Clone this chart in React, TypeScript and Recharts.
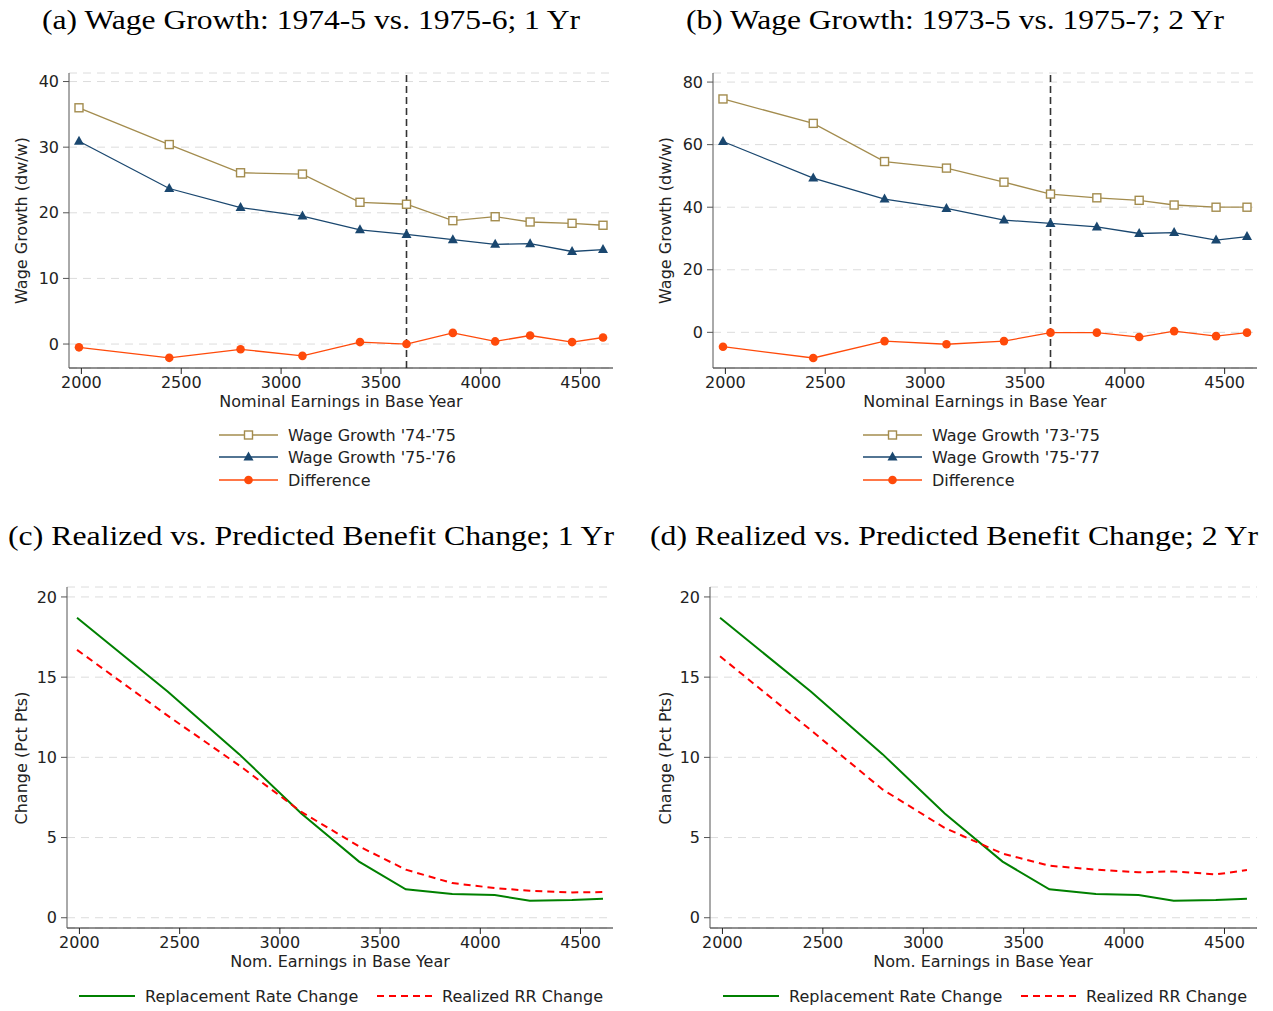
import React from "react";
import {
  LineChart,
  Line,
  XAxis,
  YAxis,
  CartesianGrid,
  ReferenceLine,
} from "recharts";

// ---------- data ----------
const earnings = [1988, 2440, 2797, 3107, 3395, 3628, 3860, 4072, 4247, 4457, 4612];
const xTicks = [2000, 2500, 3000, 3500, 4000, 4500];
const kinkEarnings = 3628;

// panel (a)
const wage7475 = [36.0, 30.4, 26.1, 25.9, 21.6, 21.3, 18.8, 19.4, 18.6, 18.4, 18.1];
const wage7576 = [30.9, 23.7, 20.8, 19.5, 17.4, 16.7, 15.9, 15.2, 15.3, 14.1, 14.4];
const diff1 = [-0.5, -2.1, -0.8, -1.8, 0.3, 0.0, 1.7, 0.4, 1.3, 0.3, 1.0];
const yTicksA = [0, 10, 20, 30, 40];

// panel (b)
const wage7375 = [74.6, 66.8, 54.6, 52.5, 48.0, 44.2, 43.0, 42.2, 40.7, 40.0, 40.0];
const wage7577 = [61.0, 49.3, 42.6, 39.6, 35.9, 34.8, 33.7, 31.6, 31.9, 29.5, 30.6];
const diff2 = [-4.6, -8.2, -2.8, -3.8, -2.8, -0.1, -0.1, -1.5, 0.4, -1.2, -0.1];
const yTicksB = [0, 20, 40, 60, 80];

// panels (c) and (d)
const rrChange = [18.7, 14.1, 10.2, 6.5, 3.5, 1.77, 1.48, 1.42, 1.06, 1.1, 1.18];
const realized1 = [16.7, 12.6, 9.5, 6.6, 4.45, 3.0, 2.16, 1.85, 1.68, 1.58, 1.6];
const realized2 = [16.3, 11.7, 8.0, 5.6, 4.0, 3.24, 3.0, 2.83, 2.89, 2.7, 2.97];
const yTicksC = [0, 5, 10, 15, 20];

const titles = [
  "(a) Wage Growth: 1974-5 vs. 1975-6; 1 Yr",
  "(b) Wage Growth: 1973-5 vs. 1975-7; 2 Yr",
  "(c) Realized vs. Predicted Benefit Change; 1 Yr",
  "(d) Realized vs. Predicted Benefit Change; 2 Yr",
];

// ---------- styles ----------
const TAN = "#A38C4E";
const NAVY = "#1A476F";
const ORANGE = "#FF4A0A";
const GREEN = "#008000";
const RED = "#FF0000";
const SANS = "DejaVu Sans";
const SERIF = "Liberation Serif";

const dataA = earnings.map((x, i) => ({ x, a: wage7475[i], b: wage7576[i], d: diff1[i] }));
const dataB = earnings.map((x, i) => ({ x, a: wage7375[i], b: wage7577[i], d: diff2[i] }));
const dataC = earnings.map((x, i) => ({ x, p: rrChange[i], r: realized1[i] }));
const dataD = earnings.map((x, i) => ({ x, p: rrChange[i], r: realized2[i] }));

const SquareDot = (props: any) => {
  const { cx, cy, index } = props;
  if (cx == null || cy == null) return <g key={`sq-${index}`} />;
  return (
    <rect key={`sq-${index}`} x={cx - 4} y={cy - 4} width={8} height={8} fill="#fff" stroke={TAN} strokeWidth={1.4} />
  );
};
const TriDot = (props: any) => {
  const { cx, cy, index } = props;
  if (cx == null || cy == null) return <g key={`tr-${index}`} />;
  return (
    <path key={`tr-${index}`} d={`M${cx},${cy - 5.5} L${cx + 5},${cy + 3.5} L${cx - 5},${cy + 3.5} Z`} fill={NAVY} />
  );
};
const CircDot = (props: any) => {
  const { cx, cy, index } = props;
  if (cx == null || cy == null) return <g key={`ci-${index}`} />;
  return <circle key={`ci-${index}`} cx={cx} cy={cy} r={4.3} fill={ORANGE} />;
};

const tickStyle = { fill: "#222", fontSize: 16, fontFamily: SANS };
const X_DOMAIN: [number, number] = [1938, 4662];

function WagePanel(props: { data: any[]; domain: [number, number]; ticks: number[]; yWidth: number; width: number; right: number }) {
  return (
    <LineChart width={props.width} height={345} data={props.data} margin={{ top: 13, right: props.right, bottom: 0, left: 0 }}>
      <CartesianGrid vertical={false} stroke="#dcdcdc" strokeDasharray="8 6" />
      <XAxis
        dataKey="x"
        type="number"
        domain={X_DOMAIN}
        ticks={xTicks}
        allowDataOverflow
        height={37}
        tickSize={6}
        tickMargin={3}
        tick={tickStyle}
        axisLine={{ stroke: "#222" }}
        tickLine={{ stroke: "#222" }}
        interval={0}
      />
      <YAxis
        type="number"
        domain={props.domain}
        ticks={props.ticks}
        allowDataOverflow
        width={props.yWidth}
        tickSize={6}
        tickMargin={4}
        tick={tickStyle}
        axisLine={{ stroke: "#555" }}
        tickLine={{ stroke: "#555" }}
        interval={0}
      />
      <ReferenceLine x={kinkEarnings} stroke="#333" strokeWidth={1.6} strokeDasharray="7 4" />
      <Line dataKey="a" stroke={TAN} strokeWidth={1.3} dot={SquareDot} isAnimationActive={false} />
      <Line dataKey="b" stroke={NAVY} strokeWidth={1.3} dot={TriDot} isAnimationActive={false} />
      <Line dataKey="d" stroke={ORANGE} strokeWidth={1.3} dot={CircDot} isAnimationActive={false} />
    </LineChart>
  );
}

function ChangePanel(props: { data: any[]; yWidth: number; width: number; right: number }) {
  return (
    <LineChart width={props.width} height={395} data={props.data} margin={{ top: 17, right: props.right, bottom: 0, left: 0 }}>
      <CartesianGrid vertical={false} stroke="#dcdcdc" strokeDasharray="8 6" />
      <XAxis
        dataKey="x"
        type="number"
        domain={X_DOMAIN}
        ticks={xTicks}
        allowDataOverflow
        height={37}
        tickSize={6}
        tickMargin={3}
        tick={tickStyle}
        axisLine={{ stroke: "#222" }}
        tickLine={{ stroke: "#222" }}
        interval={0}
      />
      <YAxis
        type="number"
        domain={[-0.64, 20.62]}
        ticks={yTicksC}
        allowDataOverflow
        width={props.yWidth}
        tickSize={6}
        tickMargin={4}
        tick={tickStyle}
        axisLine={{ stroke: "#555" }}
        tickLine={{ stroke: "#555" }}
        interval={0}
      />
      <Line dataKey="p" stroke={GREEN} strokeWidth={2} dot={false} isAnimationActive={false} />
      <Line dataKey="r" stroke={RED} strokeWidth={2} strokeDasharray="7 5" dot={false} isAnimationActive={false} />
    </LineChart>
  );
}

function WageLegend(props: { x: number; labels: string[] }) {
  const { x } = props;
  const ys = [435, 457, 480];
  return (
    <g>
      <line x1={x} x2={x + 59} y1={ys[0]} y2={ys[0]} stroke={TAN} strokeWidth={1.3} />
      <rect x={x + 25.5} y={ys[0] - 4} width={8} height={8} fill="#fff" stroke={TAN} strokeWidth={1.4} />
      <line x1={x} x2={x + 59} y1={ys[1]} y2={ys[1]} stroke={NAVY} strokeWidth={1.3} />
      <path d={`M${x + 29.5},${ys[1] - 5.5} L${x + 34.5},${ys[1] + 3.5} L${x + 24.5},${ys[1] + 3.5} Z`} fill={NAVY} />
      <line x1={x} x2={x + 59} y1={ys[2]} y2={ys[2]} stroke={ORANGE} strokeWidth={1.3} />
      <circle cx={x + 29.5} cy={ys[2]} r={4.3} fill={ORANGE} />
      {props.labels.map((t, i) => (
        <text key={t} x={x + 69} y={ys[i] + 5.5} fontFamily={SANS} fontSize={16} fill="#222">
          {t}
        </text>
      ))}
    </g>
  );
}

function ChangeLegend(props: { x: number }) {
  const { x } = props;
  const y = 996;
  return (
    <g>
      <line x1={x} x2={x + 56} y1={y} y2={y} stroke={GREEN} strokeWidth={2} />
      <text x={x + 66} y={y + 5.5} fontFamily={SANS} fontSize={16} fill="#222">Replacement Rate Change</text>
      <line x1={x + 298} x2={x + 354} y1={y} y2={y} stroke={RED} strokeWidth={2} strokeDasharray="7 5" />
      <text x={x + 363} y={y + 5.5} fontFamily={SANS} fontSize={16} fill="#222">Realized RR Change</text>
    </g>
  );
}

export default function App() {
  return (
    <div style={{ position: "absolute", left: 0, top: 0, width: 1273, height: 1011, background: "#fff", overflow: "hidden" }}>
      <div style={{ position: "absolute", left: 0, top: 60 }}>
        <WagePanel data={dataA} domain={[-3.65, 41.3]} ticks={yTicksA} yWidth={69} width={640} right={27} />
      </div>
      <div style={{ position: "absolute", left: 644, top: 60 }}>
        <WagePanel data={dataB} domain={[-11.4, 82.9]} ticks={yTicksB} yWidth={69} width={629} right={16} />
      </div>
      <div style={{ position: "absolute", left: 0, top: 570 }}>
        <ChangePanel data={dataC} yWidth={67} width={640} right={27} />
      </div>
      <div style={{ position: "absolute", left: 644, top: 570 }}>
        <ChangePanel data={dataD} yWidth={66} width={629} right={16} />
      </div>
      <svg width={1273} height={1011} style={{ position: "absolute", left: 0, top: 0, pointerEvents: "none" }}>
        <text x={42} y={28.5} fontFamily={SERIF} fontSize={27} textLength={538} lengthAdjust="spacingAndGlyphs" fill="#000">{titles[0]}</text>
        <text x={686} y={28.5} fontFamily={SERIF} fontSize={27} textLength={538} lengthAdjust="spacingAndGlyphs" fill="#000">{titles[1]}</text>
        <text x={8} y={545} fontFamily={SERIF} fontSize={27} textLength={606} lengthAdjust="spacingAndGlyphs" fill="#000">{titles[2]}</text>
        <text x={650} y={545} fontFamily={SERIF} fontSize={27} textLength={608} lengthAdjust="spacingAndGlyphs" fill="#000">{titles[3]}</text>

        <text x={341} y={406.5} textAnchor="middle" fontFamily={SANS} fontSize={16} fill="#222">Nominal Earnings in Base Year</text>
        <text x={985} y={406.5} textAnchor="middle" fontFamily={SANS} fontSize={16} fill="#222">Nominal Earnings in Base Year</text>
        <text x={340} y={966.5} textAnchor="middle" fontFamily={SANS} fontSize={16} fill="#222">Nom. Earnings in Base Year</text>
        <text x={983} y={966.5} textAnchor="middle" fontFamily={SANS} fontSize={16} fill="#222">Nom. Earnings in Base Year</text>

        <text transform="translate(27,220.5) rotate(-90)" textAnchor="middle" fontFamily={SANS} fontSize={16} fill="#222">Wage Growth (dw/w)</text>
        <text transform="translate(671,220.5) rotate(-90)" textAnchor="middle" fontFamily={SANS} fontSize={16} fill="#222">Wage Growth (dw/w)</text>
        <text transform="translate(27,758) rotate(-90)" textAnchor="middle" fontFamily={SANS} fontSize={16} fill="#222">Change (Pct Pts)</text>
        <text transform="translate(671,758) rotate(-90)" textAnchor="middle" fontFamily={SANS} fontSize={16} fill="#222">Change (Pct Pts)</text>

        <WageLegend x={219} labels={["Wage Growth '74-'75", "Wage Growth '75-'76", "Difference"]} />
        <WageLegend x={863} labels={["Wage Growth '73-'75", "Wage Growth '75-'77", "Difference"]} />
        <ChangeLegend x={79} />
        <ChangeLegend x={723} />
      </svg>
    </div>
  );
}
